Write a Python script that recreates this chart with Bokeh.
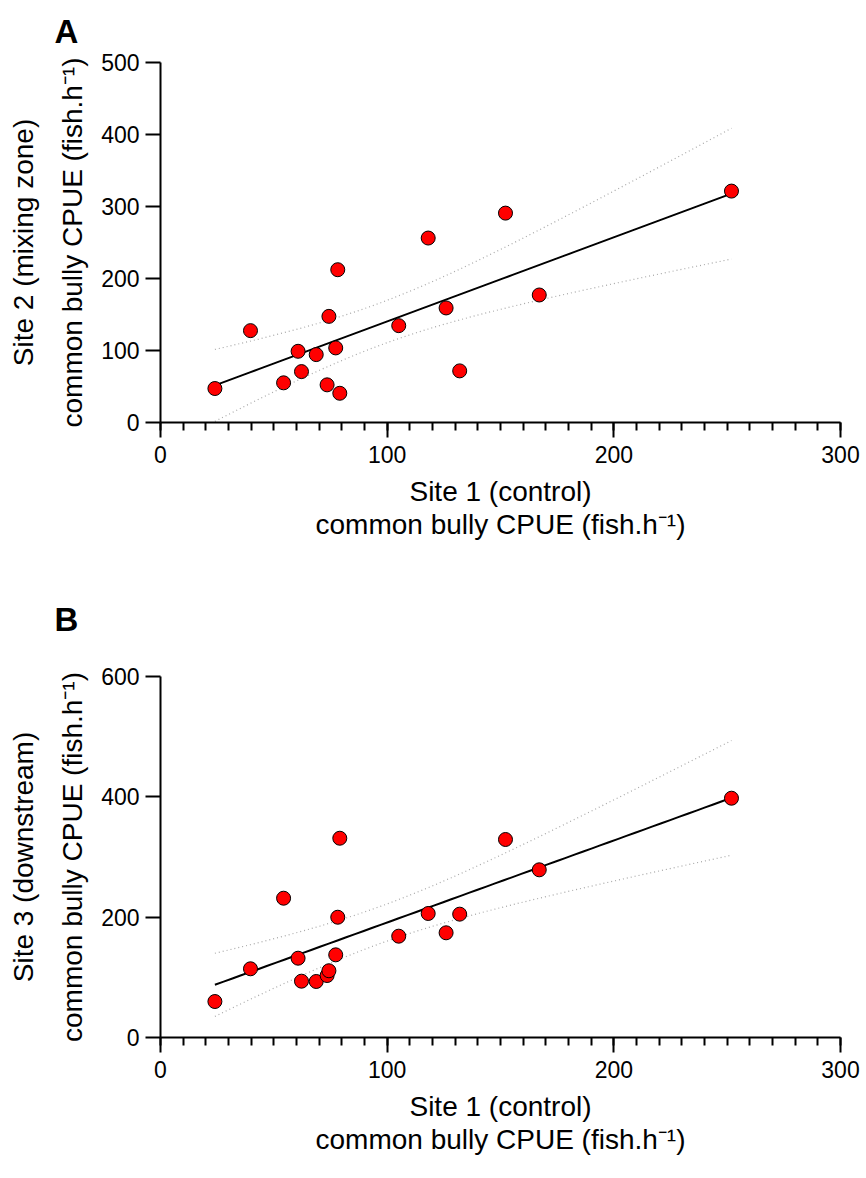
import numpy as np
from bokeh.plotting import figure
from bokeh.models import Range1d, FixedTicker, Title
from bokeh.layouts import column
from bokeh.embed import file_html
from bokeh.resources import INLINE

# Common bully CPUE (fish per hour) at the three sites
site1 = [24.0, 39.7, 54.3, 60.7, 62.2, 68.7, 73.5, 74.3, 77.3, 78.2,
         79.1, 105.1, 118.1, 126.0, 132.0, 152.2, 167.1, 251.9]
site2 = [47.2, 127.6, 55.1, 98.9, 70.7, 94.3, 52.3, 147.4, 103.6, 212.2,
         40.6, 134.5, 256.2, 159.1, 71.7, 290.8, 177.1, 321.4]
site3 = [59.8, 114.2, 231.5, 131.8, 93.6, 93.1, 103.0, 110.9, 137.4, 199.9,
         331.2, 168.4, 206.1, 174.0, 205.0, 329.1, 278.7, 397.7]

x_ticks = [0, 100, 200, 300]
x_minor = list(range(0, 301, 10))
y_ticks_a = [0, 100, 200, 300, 400, 500]
y_ticks_b = [0, 200, 400, 600]

x_title = "Site 1 (control)\ncommon bully CPUE (fish.h\u207b\u00b9)"
y_title_a = "Site 2 (mixing zone)\ncommon bully CPUE (fish.h\u207b\u00b9)"
y_title_b = "Site 3 (downstream)\ncommon bully CPUE (fish.h\u207b\u00b9)"

FONT = "Liberation Sans"
TICK_SIZE = "23px"
LABEL_SIZE = "28px"

FRAME_LEFT = 160
FRAME_W = 680


def make_panel(letter, xs, ys, y_max, y_ticks, y_title, height, top, bottom, letter_gap):
    p = figure(width=866, height=height, x_range=Range1d(0, 300), y_range=Range1d(0, y_max),
               output_backend="svg", toolbar_location=None,
               min_border_left=FRAME_LEFT, min_border_right=866 - FRAME_LEFT - FRAME_W,
               min_border_top=top, min_border_bottom=bottom)
    p.xgrid.visible = False
    p.ygrid.visible = False
    p.outline_line_color = None
    p.background_fill_color = "white"
    p.border_fill_color = "white"

    p.xaxis.ticker = FixedTicker(ticks=x_ticks, minor_ticks=x_minor)
    p.yaxis.ticker = FixedTicker(ticks=y_ticks, minor_ticks=[])
    for ax in (p.xaxis, p.yaxis):
        ax.axis_line_width = 2
        ax.axis_line_color = "black"
        ax.major_tick_line_width = 2
        ax.major_tick_line_color = "black"
        ax.major_tick_out = 15
        ax.major_tick_in = 0
        ax.minor_tick_line_width = 2
        ax.minor_tick_line_color = "black"
        ax.minor_tick_out = 8
        ax.minor_tick_in = 0
        ax.major_label_text_font = FONT
        ax.major_label_text_font_size = TICK_SIZE
        ax.major_label_text_color = "black"
        ax.axis_label_text_font = FONT
        ax.axis_label_text_font_size = LABEL_SIZE
        ax.axis_label_text_font_style = "normal"
        ax.axis_label_text_color = "black"
    p.xaxis.major_label_standoff = 8
    p.yaxis.major_label_standoff = 6
    p.xaxis.axis_label = x_title
    p.yaxis.axis_label = y_title
    p.xaxis.axis_label_standoff = 10
    p.yaxis.axis_label_standoff = 10
    p.xaxis.axis_label_text_line_height = 1.07
    p.yaxis.axis_label_text_line_height = 1.6

    # panel letter above the plot, left of the y axis
    p.add_layout(Title(text=letter, align="left", offset=-106, standoff=letter_gap,
                       vertical_align="top",
                       text_font=FONT, text_font_size="33px", text_font_style="bold",
                       text_color="black"), "above")

    # least-squares fit with 95% confidence band of the line
    x = np.asarray(xs, dtype=float)
    y = np.asarray(ys, dtype=float)
    n = len(x)
    slope, intercept = np.polyfit(x, y, 1)
    resid = y - (slope * x + intercept)
    s = np.sqrt(np.sum(resid ** 2) / (n - 2))
    sxx = np.sum((x - x.mean()) ** 2)
    t_crit = 2.1199  # t(0.975, df=16)
    xf = np.linspace(x.min(), x.max(), 60)
    yf = slope * xf + intercept
    half = t_crit * s * np.sqrt(1.0 / n + (xf - x.mean()) ** 2 / sxx)

    p.line(xf, yf + half, line_color="#a8a8a8", line_width=1.2, line_dash="1 3")
    p.line(xf, yf - half, line_color="#a8a8a8", line_width=1.2, line_dash="1 3")
    p.line(xf, yf, line_color="black", line_width=2)
    p.scatter(xs, ys, marker="circle", size=14, fill_color="#ff0000",
              line_color="black", line_width=1)
    return p


pa = make_panel("A", site1, site2, 500, y_ticks_a, y_title_a, 560, 62, 138, 22)
pb = make_panel("B", site1, site3, 600, y_ticks_b, y_title_b, 618, 116, 141, 74)

layout = column(pa, pb, spacing=0)
open("out.html", "w").write(file_html(layout, INLINE))
